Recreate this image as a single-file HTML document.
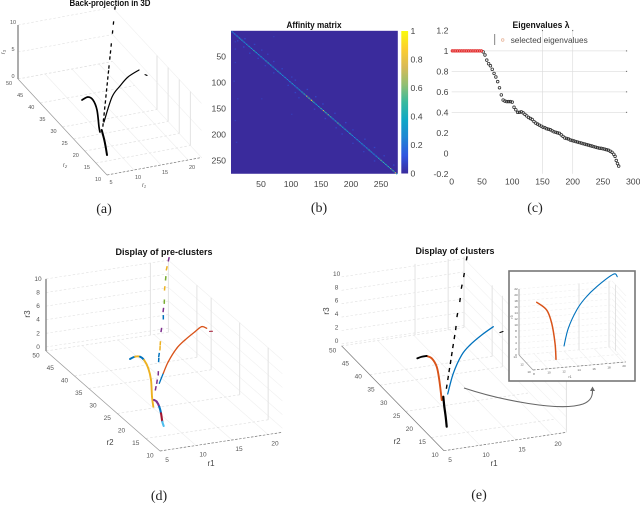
<!DOCTYPE html>
<html lang="en">
<head>
<meta charset="utf-8">
<title>Back-projection, affinity matrix, eigenvalues and clusters</title>
<style>
html,body{margin:0;padding:0;background:#fff;}
body{width:640px;height:521px;overflow:hidden;}
svg{display:block;font-family:"Liberation Sans",sans-serif;filter:blur(0.3px);}
.cap{font-family:"Liberation Serif",serif;font-size:14px;fill:#222;text-anchor:middle;}
.ttl{font-weight:bold;font-size:9px;fill:#111;text-anchor:middle;}
</style>
</head>
<body>
<svg id="figure" width="640" height="521" viewBox="0 0 640 521" xmlns="http://www.w3.org/2000/svg">
<defs>
<linearGradient id="parula" x1="0" y1="1" x2="0" y2="0">
<stop offset="0" stop-color="#3a2b9c"/><stop offset="0.125" stop-color="#2f55e0"/><stop offset="0.25" stop-color="#1f85d4"/><stop offset="0.375" stop-color="#10a7c6"/><stop offset="0.5" stop-color="#38b99e"/><stop offset="0.625" stop-color="#92bf73"/><stop offset="0.75" stop-color="#d9ba56"/><stop offset="0.875" stop-color="#fcce2e"/><stop offset="1" stop-color="#f9fb0e"/>
</linearGradient>
</defs>
<text class="ttl" x="110" y="6" textLength="81" lengthAdjust="spacingAndGlyphs">Back-projection in 3D</text>
<text class="ttl" x="314" y="28" textLength="55" lengthAdjust="spacingAndGlyphs">Affinity matrix</text>
<text class="ttl" x="541" y="28" textLength="57" lengthAdjust="spacingAndGlyphs">Eigenvalues  λ</text>
<text class="ttl" x="164" y="255" textLength="97" lengthAdjust="spacingAndGlyphs">Display of pre-clusters</text>
<text class="ttl" x="455" y="254" textLength="79" lengthAdjust="spacingAndGlyphs">Display of clusters</text>
<text class="cap" x="104" y="213">(a)</text>
<text class="cap" x="319" y="212">(b)</text>
<text class="cap" x="535" y="212">(c)</text>
<text class="cap" x="159" y="500">(d)</text>
<text class="cap" x="479" y="499">(e)</text>
<g id="panel-a"></g>
<g id="panel-b"></g>
<g id="panel-c"></g>
<g id="panel-d"></g>
<g id="panel-e"></g>
<rect x="509" y="271" width="126" height="110" fill="#fff" stroke="#777" stroke-width="1.6"/>
<g id="panel-inset"></g>
<path d="M464 388 C 500 400 560 412 583 404 C 591 401 592.5 396 592.5 391" fill="none" stroke="#666" stroke-width="1.1"/>
<path d="M590 391 L592.5 386.5 L595 391 Z" fill="#666"/>
</svg>
<script>
/* Panel (a) series: r1 and r3 values */
const aLineR1 = [10.60,10.32,10.15,9.90,9.77,9.65,9.48,9.39,9.27,9.16,9.04,8.93,8.82,8.70,8.59,8.47,8.38];
const aLineR3 = [25.44,22.72,21.08,18.72,17.45,16.36,14.73,13.82,12.73,11.64,10.55,9.46,8.37,7.28,6.19,5.10,4.19];
const aLeftR1 = [4.49,5.60,6.53,7.27,7.64,7.82];
const aLeftR3 = [9.54,9.89,9.16,7.17,3.96,3.00];
const aBottomR1 = [8.14,8.62,8.88,9.12];
const aBottomR3 = [3.31,1.37,0.02,-1.50];
const aRightR1 = [8.56,10.05,11.53,13.01,15.05];
const aRightR3 = [4.71,9.06,10.83,12.22,13.14];
const aTailR1 = [16.16,16.53];
const aTailR3 = [12.07,11.86];

/* Panel (d) series with pre-cluster indices */
const dLineR1 = [8.36,8.54,8.72,8.78,8.82,8.96,9.00,9.14,9.42,9.42,9.56,9.61,9.75,9.89,10.17];
const dLineR3 = [5.00,5.94,7.15,9.09,9.82,10.79,11.51,13.45,15.27,16.34,17.54,19.50,20.95,22.40,23.68];
const dLineCluster = [3,3,3,0,0,2,2,3,0,3,4,2,4,2,3];
const dLeftR1 = [4.79,5.49,6.18,6.74,7.33,7.71,7.85,8.03];
const dLeftR3 = [9.89,10.11,10.00,9.43,8.11,6.33,3.85,2.35];
const dLeftCluster = [0,2,0,2,2,2,2,2];
const dRightR1 = [8.86,9.42,10.11,11.28,12.43,13.82,14.75,15.44];
const dRightR3 = [5.65,7.04,8.63,10.41,11.45,12.44,13.03,12.68];
const dRightCluster = [0,1,1,1,1,1,1,1];
const dBottomR1 = [8.13,8.50,8.86,9.10,9.28,9.47];
const dBottomR3 = [3.32,3.01,2.21,1.20,-0.06,-0.72];
const dBottomCluster = [3,3,0,6,5,0];
const dTailR1 = [15.83,16.25];
const dTailR3 = [12.17,12.11];

/* Panel (e) series */
const eLineR1 = [8.93,9.12,9.29,9.47,9.64,9.81,10.01,10.20,10.40,10.78,11.01,11.33,11.71];
const eLineR3 = [5.01,6.28,7.44,8.61,9.77,10.94,12.25,13.56,15.47,17.65,19.60,21.29,23.72];
const eLeftBlackR1 = [4.85,5.46,6.15];
const eLeftBlackR3 = [9.90,10.04,10.04];
const eLeftRedR1 = [6.15,6.85,7.54,7.90,8.24];
const eLeftRedR3 = [10.04,9.58,8.22,6.17,3.13];
const eBottomR1 = [8.46,8.60,8.79,8.93];
const eBottomR3 = [3.59,2.08,0.55,-0.96];
const eRightR1 = [9.07,9.85,11.01,12.17,13.79,15.40];
const eRightR3 = [3.90,6.86,9.40,10.71,11.94,12.92];
const eTailR1 = [16.33,16.75];
const eTailR3 = [11.90,11.99];

/* Inset series */
const insetRedR1 = [9.43,10.76,11.43,11.87,12.00];
const insetRedR3 = [19.76,16.90,12.32,5.56,0.20];
const insetBlueR1 = [13.07,13.64,14.76,15.87,17.43,19.64,20.17];
const insetBlueR3 = [4.40,10.18,16.04,19.69,23.22,26.88,25.96];

/* Shared 3D tick labels */
const r1Ticks = [5,10,15,20];
const r2Ticks = [10,15,20,25,30,35,40,45,50];
const r2GridA = [15,20,25,30,40,50];
const r2GridD = [15,25,35,40,50];
const r2GridE = [15,25,35,39,50];
const r3TicksA = [0,5,10];
const r3TicksFine = [0,2,4,6,8,10];
const insetR1Ticks = [8,10,12,14,16,18,20];
const insetR2Ticks = [10,12,14];
const insetR3Ticks = [0,2,4,6,8,10,12,14,16,18,20,22];

/* Affinity matrix values */
const affinitySize = 277;
const diagIndex = [2,6,10,14,18,22,26,30,34,38,42,46,50,54,58,62,66,70,74,78,82,86,90,94,98,102,106,110,114,118,122,126,130,134,138,142,146,150,154,158,162,166,170,174,178,182,186,190,194,198,202,206,210,214,218,222,226,230,234,238,242,246,250,254,258,262,266,270,274];
const diagValue = [0.30,0.28,0.35,0.42,0.38,0.32,0.36,0.40,0.35,0.48,0.38,0.34,0.36,0.30,0.42,0.45,0.36,0.34,0.38,0.44,0.36,0.30,0.34,0.28,0.32,0.40,0.30,0.36,0.34,0.42,0.50,0.72,0.60,0.92,0.45,0.36,0.40,0.50,0.74,0.52,0.60,0.48,0.36,0.42,0.55,0.46,0.38,0.44,0.35,0.50,0.30,0.28,0.34,0.32,0.36,0.30,0.34,0.46,0.32,0.30,0.36,0.44,0.55,0.50,0.46,0.48,0.60,0.55,0.75];
const offRow = [14,18,25,30,36,42,44,52,58,66,72,80,88,94,104,112,118,126,128,140,150,158,168,176,186,190,198,208,216,224,232,240,250,258,20,34,60,96,130,172,214,10,130,160];
const offCol = [22,10,38,20,50,30,60,44,70,56,84,70,100,106,94,126,106,140,112,152,138,172,156,190,174,202,184,222,202,238,220,254,238,270,6,6,6,4,10,6,8,70,50,100];
const offValue = [0.08,0.07,0.07,0.08,0.06,0.07,0.06,0.07,0.07,0.06,0.07,0.07,0.06,0.07,0.07,0.08,0.07,0.07,0.06,0.08,0.07,0.07,0.07,0.08,0.07,0.06,0.07,0.07,0.06,0.07,0.06,0.07,0.07,0.07,0.05,0.05,0.05,0.05,0.04,0.05,0.05,0.04,0.04,0.04];
const heatXTicks = [50,100,150,200,250];
const heatYTicks = [50,100,150,200,250];
const colorbarTicks = [0,0.2,0.4,0.6,0.8,1];

/* Eigenvalues */
const selectedIndex = [1,4,7,10,13,16,19,22,25,28,31,34,37,40,43,46,49];
const selectedValue = [1,1,1,1,1,1,1,1,1,1,1,1,1,1,1,1,1];
const eigenIndex = [52,55,58,61,64,67,70,73,76,79,82,85,88,91,94,97,100,103,106,109,112,115,118,121,124,127,130,133,136,139,142,145,148,151,154,157,160,163,166,169,172,175,178,181,184,187,190,193,196,199,202,205,208,211,214,217,220,223,226,229,232,235,238,241,244,247,250,253,256,259,262,265,268,270,272,274,276];
const eigenValue = [0.99,0.96,0.91,0.875,0.855,0.82,0.78,0.745,0.70,0.64,0.57,0.52,0.51,0.505,0.505,0.505,0.50,0.45,0.425,0.40,0.40,0.405,0.395,0.38,0.365,0.35,0.34,0.33,0.31,0.295,0.285,0.275,0.265,0.255,0.25,0.24,0.235,0.23,0.22,0.21,0.205,0.20,0.195,0.18,0.165,0.15,0.145,0.14,0.13,0.125,0.12,0.115,0.11,0.105,0.10,0.095,0.09,0.085,0.08,0.075,0.07,0.065,0.06,0.055,0.05,0.048,0.045,0.04,0.035,0.03,0.02,0.01,-0.01,-0.03,-0.07,-0.10,-0.125];
const eigenXTicks = [0,50,100,150,200,250,300];
const eigenYTicks = [-0.2,0,0.2,0.4,0.6,0.8,1,1.2];
const eigenGridX = [150,200];
const eigenGridY = [0.4,0.6,0.8,1];

const SVGNS = 'http://www.w3.org/2000/svg';
const clusterColors = ['#0072bd','#d95319','#edb120','#7e2f8e','#77ac30','#4dbeee','#a2142f'];

function mk(parent, tag, attrs, name, txt) {
  const el = document.createElementNS(SVGNS, tag);
  for (const k in attrs) el.setAttribute(k, attrs[k]);
  
  
  if (txt !== undefined) el.textContent = txt;
  parent.appendChild(el);
  return el;
}

function projector(c) {
  return function (r1, r2, r3) {
    return [
      c.ox + (r1 - c.r1Min) * c.ax + (r2 - c.r2Min) * c.bx,
      c.oy + (r1 - c.r1Min) * c.ay + (r2 - c.r2Min) * c.by - r3 * c.cz
    ];
  };
}

function seg(g, a, b, color, w, name, dash) {
  const at = {x1:a[0].toFixed(2), y1:a[1].toFixed(2), x2:b[0].toFixed(2), y2:b[1].toFixed(2), stroke:color, 'stroke-width':w};
  if (dash) at['stroke-dasharray'] = dash;
  return mk(g, 'line', at, name);
}

function drawAxes3D(g, c) {
  const P = projector(c);
  const gridColor = c.gridColor || '#e0e0e0';
  c.r1Grid.forEach(function (v) { seg(g, P(v, c.r2Min, 0), P(v, c.r2Max, 0), '#eeeeee', 0.6, 'floor-grid-r1'); });
  c.r2Grid.forEach(function (v) { seg(g, P(c.r1Min, v, 0), P(c.r1Max, v, 0), gridColor, 0.7, 'floor-grid-r2', '2.5 2'); });
  c.r3Ticks.forEach(function (v) {
    const z = v + c.zPad;
    seg(g, P(c.r1Min, c.r2Max, z), P(c.r1Max, c.r2Max, z), gridColor, 0.6, 'wall-grid-r3', '2.5 2');
    seg(g, P(c.r1Max, c.r2Max, z), P(c.r1Max, c.r2Min, z), '#f0f0f0', 0.6, 'side-wall-grid-r3');
  });
  c.sideVerticals.forEach(function (v) { seg(g, P(c.r1Max, v, 0), P(c.r1Max, v, c.zTop), '#e2e2e2', 1, 'side-wall-vertical'); });
  c.backVerticals.forEach(function (v) { seg(g, P(v, c.r2Max, 0), P(v, c.r2Max, c.zTop), '#e2e2e2', 1, 'back-wall-vertical'); });
  seg(g, P(c.r1Min, c.r2Min, 0), P(c.r1Max, c.r2Min, 0), '#777', 0.7, 'r1-axis-line', '2.5 1.5');
  seg(g, P(c.r1Min, c.r2Min, 0), P(c.r1Min, c.r2Max, 0), c.r2AxisColor, 0.7, 'r2-axis-line');
  if (c.zBar) seg(g, P(c.r1Min, c.r2Max, 0), P(c.r1Min, c.r2Max, c.zTop), '#8a8a8a', c.zBar, 'r3-axis-line');
  c.r1Labels.forEach(function (v) {
    const p = P(v, c.r2Min, 0);
    mk(g, 'text', {x:p[0]+c.r1Off[0], y:p[1]+c.r1Off[1], 'font-size':c.tickFont, fill:'#555', 'text-anchor':'middle'}, 'r1-tick-label', String(v));
  });
  c.r2Labels.forEach(function (v) {
    const p = P(c.r1Min, v, 0);
    mk(g, 'text', {x:p[0]+c.r2Off[0], y:p[1]+c.r2Off[1], 'font-size':c.tickFont, fill:'#555', 'text-anchor':'middle'}, 'r2-tick-label', String(v));
  });
  c.r3Ticks.forEach(function (v) {
    const p = P(c.r1Min, c.r2Max, v + c.zPad);
    mk(g, 'text', {x:p[0]+c.r3Off[0], y:p[1]+c.r3Off[1], 'font-size':c.tickFont, fill:'#555', 'text-anchor':'middle'}, 'r3-tick-label', String(v));
  });
}

function bezierPiece(pts, i) {
  const p0 = pts[Math.max(0, i - 1)], p1 = pts[i], p2 = pts[i + 1], p3 = pts[Math.min(pts.length - 1, i + 2)];
  const c1 = [p1[0] + (p2[0] - p0[0]) / 6, p1[1] + (p2[1] - p0[1]) / 6];
  const c2 = [p2[0] - (p3[0] - p1[0]) / 6, p2[1] - (p3[1] - p1[1]) / 6];
  return 'C' + c1[0].toFixed(2) + ' ' + c1[1].toFixed(2) + ' ' + c2[0].toFixed(2) + ' ' + c2[1].toFixed(2) + ' ' + p2[0].toFixed(2) + ' ' + p2[1].toFixed(2);
}

function curve(g, P, r2, xs, zs, color, w, name) {
  const pts = xs.map(function (x, i) { return P(x, r2, zs[i]); });
  let d = 'M' + pts[0][0].toFixed(2) + ' ' + pts[0][1].toFixed(2);
  for (let i = 0; i < pts.length - 1; i++) d += bezierPiece(pts, i);
  return mk(g, 'path', {d:d, fill:'none', stroke:color, 'stroke-width':w, 'stroke-linejoin':'round', 'stroke-linecap':'round'}, name);
}

function colorCurve(g, P, r2, xs, zs, clusters, w, name) {
  const pts = xs.map(function (x, i) { return P(x, r2, zs[i]); });
  for (let i = 0; i < pts.length - 1; i++) {
    const d = 'M' + pts[i][0].toFixed(2) + ' ' + pts[i][1].toFixed(2) + bezierPiece(pts, i);
    mk(g, 'path', {d:d, fill:'none', stroke:clusterColors[clusters[i]], 'stroke-width':w, 'stroke-linecap':'round'}, name);
  }
}

function dashes(g, P, r2, xs, zs, clusters, color, w, len, name) {
  xs.forEach(function (x, i) {
    const p = P(x, r2, zs[i]);
    const j = i < xs.length - 1 ? i + 1 : i - 1;
    const q = P(xs[j], r2, zs[j]);
    const d = Math.hypot(q[0]-p[0], q[1]-p[1]) || 1;
    const ux = (q[0]-p[0]) / d, uy = (q[1]-p[1]) / d;
    const col = clusters ? clusterColors[clusters[i]] : color;
    seg(g, [p[0]-ux*len/2, p[1]-uy*len/2], [p[0]+ux*len/2, p[1]+uy*len/2], col, w, name);
  });
}

/* Panel a */
const cfgA = {ox:107, oy:175, ax:5.4, ay:-1, bx:-2.225, by:-2.4, cz:5.4, r1Min:5, r1Max:22.5, r2Min:10, r2Max:50, zPad:0, zTop:10, zBar:1.4,
  r1Grid:r1Ticks, r2Grid:r2GridA, r3Ticks:r3TicksA, sideVerticals:[15,20,25,30], backVerticals:[], r1Labels:r1Ticks, r2Labels:r2Ticks,
  r1Off:[4,9], r2Off:[-9,6], r3Off:[-5,-1], tickFont:5.5, r2AxisColor:'#999'};
const gA = document.getElementById('panel-a');
drawAxes3D(gA, cfgA);
const PA = projector(cfgA);
dashes(gA, PA, 20, aLineR1, aLineR3, null, '#000', 1.3, 3.4, 'dashed-branch');
curve(gA, PA, 20, aLeftR1, aLeftR3, '#000', 1.7, 'left-branch');
curve(gA, PA, 20, aBottomR1, aBottomR3, '#000', 2, 'bottom-branch');
curve(gA, PA, 20, aRightR1, aRightR3, '#000', 1.2, 'right-branch');
curve(gA, PA, 20, aTailR1, aTailR3, '#000', 1.1, 'right-branch-tail');
mk(gA, 'text', {x:144, y:187, 'font-size':6, 'font-style':'italic', fill:'#555', 'text-anchor':'middle'}, 'r1-axis-title', 'r₁');
mk(gA, 'text', {x:65, y:167, 'font-size':6, 'font-style':'italic', fill:'#555', 'text-anchor':'middle'}, 'r2-axis-title', 'r₂');
mk(gA, 'text', {x:5, y:52, 'font-size':6, 'font-style':'italic', fill:'#555', 'text-anchor':'middle', transform:'rotate(-90 5 52)'}, 'r3-axis-title', 'r₃');

/* Panel b */
const gB = document.getElementById('panel-b');
const hx = function (v) { return 231 + v * 0.6; };
const hy = function (v) { return 30.8 + v * 0.518; };
const parulaStops = ['#3a2b9c','#2f55e0','#1f85d4','#10a7c6','#38b99e','#92bf73','#d9ba56','#fcce2e','#f9fb0e'];
function parula(v) {
  const t = Math.max(0, Math.min(1, v)) * (parulaStops.length - 1);
  const i = Math.min(parulaStops.length - 2, Math.floor(t));
  const f = t - i;
  const a = parseInt(parulaStops[i].slice(1), 16), b = parseInt(parulaStops[i+1].slice(1), 16);
  const ch = function (s) { return Math.round(((a >> s) & 255) * (1 - f) + ((b >> s) & 255) * f); };
  return 'rgb(' + ch(16) + ',' + ch(8) + ',' + ch(0) + ')';
}
mk(gB, 'rect', {x:hx(0), y:hy(0), width:hx(affinitySize+1)-hx(0), height:hy(affinitySize-1)-hy(0), fill:parula(0)}, 'heatmap-background');
offRow.forEach(function (r, i) {
  mk(gB, 'rect', {x:hx(offCol[i]), y:hy(r), width:1.5, height:1.3, fill:parula(offValue[i])}, 'heatmap-cell');
});
diagIndex.forEach(function (d, i) {
  mk(gB, 'rect', {x:hx(d-1), y:hy(d-1), width:1.3, height:1.1, fill:parula(diagValue[i])}, 'heatmap-diagonal-cell');
  mk(gB, 'rect', {x:hx(d+1), y:hy(d+1), width:1.2, height:1.1, fill:parula(diagValue[i]*0.55)}, 'heatmap-diagonal-cell');
});
heatXTicks.forEach(function (v) {
  mk(gB, 'text', {x:hx(v), y:187, 'font-size':8.7, fill:'#444', 'text-anchor':'middle'}, 'x-tick-label', String(v));
});
heatYTicks.forEach(function (v) {
  mk(gB, 'text', {x:226, y:hy(v)+3, 'font-size':8.7, fill:'#444', 'text-anchor':'end'}, 'y-tick-label', String(v));
});
mk(gB, 'rect', {x:401.3, y:31, width:6.8, height:142.5, fill:'url(#parula)'}, 'colorbar');
colorbarTicks.forEach(function (v) {
  mk(gB, 'text', {x:410.5, y:173.5 - v*142.5 + 3, 'font-size':8.7, fill:'#444'}, 'colorbar-tick-label', String(v));
});

/* Panel c */
const gC = document.getElementById('panel-c');
const ex = function (v) { return 451.7 + v * 0.605; };
const ey = function (v) { return 153.3 - v * 102.4; };
eigenGridY.forEach(function (v) {
  seg(gC, [ex(0), ey(v)], [ex(288), ey(v)], '#e2e2e2', 0.7, 'horizontal-gridline');
  mk(gC, 'rect', {x:ex(288), y:ey(v)-0.5, width:1.2, height:1, fill:'#666'}, 'right-tick-mark');
});
eigenGridX.forEach(function (v) {
  seg(gC, [ex(v), ey(1.2)], [ex(v), ey(-0.2)], '#dedede', 0.7, 'vertical-gridline');
  mk(gC, 'rect', {x:ex(v)-0.5, y:ey(1.2)-0.5, width:1, height:1.2, fill:'#666'}, 'top-tick-mark');
});
eigenXTicks.forEach(function (v) {
  mk(gC, 'text', {x:ex(v), y:184.5, 'font-size':8.7, fill:'#444', 'text-anchor':'middle'}, 'x-tick-label', String(v));
});
eigenYTicks.forEach(function (v) {
  mk(gC, 'text', {x:448.5, y:ey(v)+3, 'font-size':8.7, fill:'#444', 'text-anchor':'end'}, 'y-tick-label', String(v));
});
eigenIndex.forEach(function (idx, i) {
  mk(gC, 'circle', {cx:ex(idx), cy:ey(eigenValue[i]), r:1.3, fill:'none', stroke:'#333', 'stroke-width':0.8}, 'eigenvalue-point');
});
selectedIndex.forEach(function (idx, i) {
  mk(gC, 'circle', {cx:ex(idx), cy:ey(selectedValue[i]), r:1.2, fill:'#f4a0a0', stroke:'#e02020', 'stroke-width':0.8}, 'selected-eigenvalue-point');
});
mk(gC, 'rect', {x:494, y:34, width:1.2, height:11, fill:'#999'}, 'legend-border');
mk(gC, 'circle', {cx:502.7, cy:40, r:1.3, fill:'none', stroke:'#e9b9a0', 'stroke-width':0.8}, 'legend-marker');
mk(gC, 'text', {x:510.7, y:43, 'font-size':8.5, fill:'#444', textLength:77, lengthAdjust:'spacingAndGlyphs'}, 'legend-label', 'selected eigenvalues');

/* Panel d */
const cfgD = {ox:160, oy:451, ax:7.2, ay:-1.1, bx:-2.85, by:-2.5, cz:6.8, r1Min:5, r1Max:22, r2Min:10, r2Max:50, zPad:0.6, zTop:10.6, zBar:1.5,
  r1Grid:r1Ticks, r2Grid:r2GridD, r3Ticks:r3TicksFine, sideVerticals:[15,25,35,40,50], backVerticals:[19.5], r1Labels:r1Ticks, r2Labels:r2Ticks,
  r1Off:[7,11], r2Off:[-10,6.5], r3Off:[-8,2], tickFont:6.5, r2AxisColor:'#999'};
const gD = document.getElementById('panel-d');
drawAxes3D(gD, cfgD);
const PD = projector(cfgD);
dashes(gD, PD, 20, dLineR1, dLineR3, dLineCluster, null, 1.5, 4.4, 'pre-cluster-dashed-branch');
colorCurve(gD, PD, 20, dLeftR1, dLeftR3, dLeftCluster, 1.9, 'pre-cluster-left-branch');
colorCurve(gD, PD, 20, dRightR1, dRightR3, dRightCluster, 1.3, 'pre-cluster-right-branch');
colorCurve(gD, PD, 20, dBottomR1, dBottomR3, dBottomCluster, 2.1, 'pre-cluster-bottom-branch');
curve(gD, PD, 20, dTailR1, dTailR3, clusterColors[6], 1, 'pre-cluster-right-tail');
mk(gD, 'text', {x:211, y:466, 'font-size':8, fill:'#444', 'text-anchor':'middle'}, 'r1-axis-title', 'r1');
mk(gD, 'text', {x:110, y:445, 'font-size':8, fill:'#444', 'text-anchor':'middle'}, 'r2-axis-title', 'r2');
mk(gD, 'text', {x:30, y:314, 'font-size':8, fill:'#444', 'text-anchor':'middle', transform:'rotate(-90 30 314)'}, 'r3-axis-title', 'r3');

/* Panel e */
const cfgE = {ox:444, oy:450.7, ax:7.2, ay:-1.08, bx:-2.56, by:-2.62, cz:6.7, r1Min:5, r1Max:22, r2Min:10, r2Max:50, zPad:0.3, zTop:10.6, zBar:0,
  r1Grid:r1Ticks, r2Grid:r2GridE, r3Ticks:r3TicksFine, sideVerticals:[10,35,39,50], backVerticals:[15.2,19.8], r1Labels:r1Ticks, r2Labels:r2Ticks,
  r1Off:[6,11.5], r2Off:[-9,6.5], r3Off:[-5,-1], tickFont:6.5, r2AxisColor:'#777'};
const gE = document.getElementById('panel-e');
drawAxes3D(gE, cfgE);
const PE = projector(cfgE);
dashes(gE, PE, 20, eLineR1, eLineR3, null, '#000', 1.4, 4.2, 'cluster-dashed-branch');
curve(gE, PE, 20, eLeftRedR1, eLeftRedR3, clusterColors[1], 1.9, 'cluster-left-branch-red');
curve(gE, PE, 20, eLeftBlackR1, eLeftBlackR3, '#000', 1.9, 'cluster-left-branch-black');
curve(gE, PE, 20, eBottomR1, eBottomR3, '#000', 2.2, 'cluster-bottom-branch');
curve(gE, PE, 20, eRightR1, eRightR3, clusterColors[0], 1.3, 'cluster-right-branch');
curve(gE, PE, 20, eTailR1, eTailR3, '#000', 1.1, 'cluster-right-tail');
mk(gE, 'text', {x:494, y:466, 'font-size':8, fill:'#444', 'text-anchor':'middle'}, 'r1-axis-title', 'r1');
mk(gE, 'text', {x:397, y:444, 'font-size':8, fill:'#444', 'text-anchor':'middle'}, 'r2-axis-title', 'r2');
mk(gE, 'text', {x:329, y:311, 'font-size':8, fill:'#444', 'text-anchor':'middle', transform:'rotate(-90 329 311)'}, 'r3-axis-title', 'r3');

/* Inset */
const cfgI = {ox:533, oy:370, ax:7.5, ay:-0.65, bx:-3.5, by:-3.75, cz:3, r1Min:8, r1Max:20.4, r2Min:10, r2Max:14, zPad:0, zTop:22, zBar:0.8,
  r1Grid:insetR1Ticks, r2Grid:insetR2Ticks, r3Ticks:insetR3Ticks, sideVerticals:[13], backVerticals:[16,20], r1Labels:insetR1Ticks, r2Labels:insetR2Ticks,
  r1Off:[1,5], r2Off:[-4,3], r3Off:[-3,1], tickFont:3, r2AxisColor:'#999', gridColor:'#eeeeee'};
const gI = document.getElementById('panel-inset');
drawAxes3D(gI, cfgI);
const PI3 = projector(cfgI);
curve(gI, PI3, 12, insetRedR1, insetRedR3, clusterColors[1], 1.5, 'inset-red-branch');
curve(gI, PI3, 12, insetBlueR1, insetBlueR3, clusterColors[0], 1.1, 'inset-blue-branch');
mk(gI, 'text', {x:570, y:378, 'font-size':3.5, fill:'#555', 'text-anchor':'middle'}, 'inset-r1-title', 'r1');
mk(gI, 'text', {x:513, y:317, 'font-size':3.5, fill:'#555', 'text-anchor':'middle', transform:'rotate(-90 513 317)'}, 'inset-r3-title', 'r3');
</script>
</body>
</html>
